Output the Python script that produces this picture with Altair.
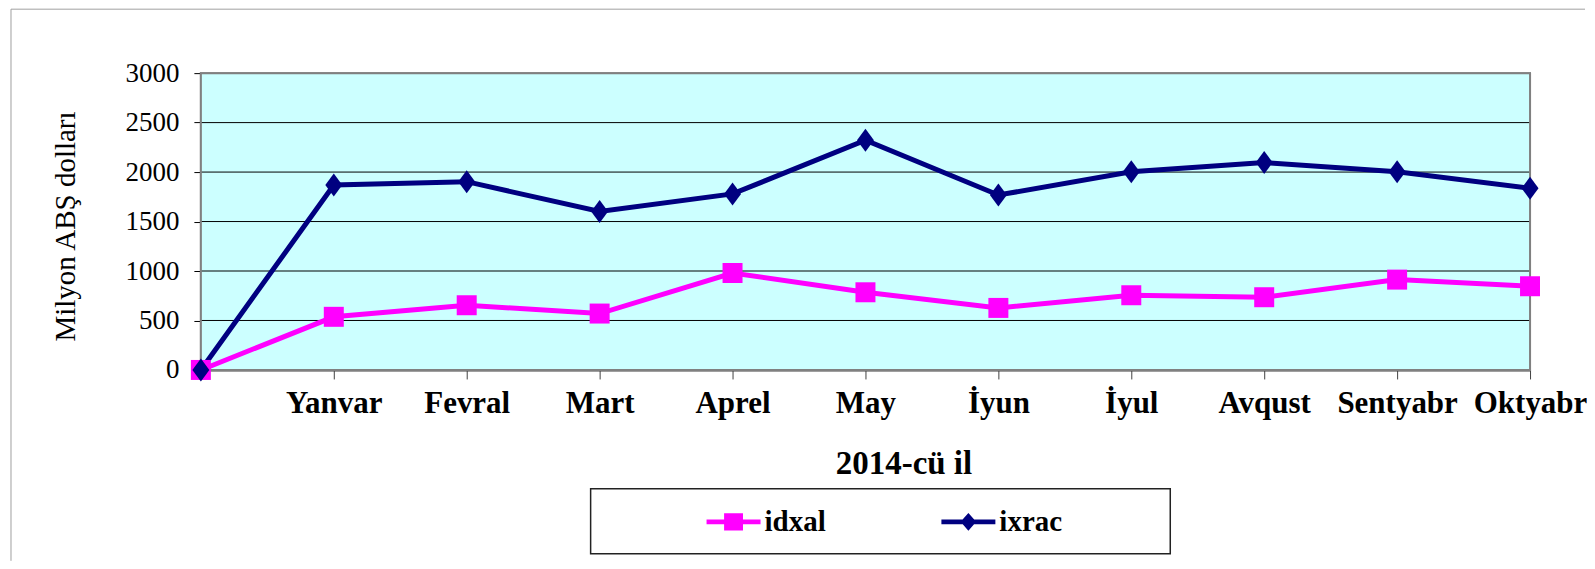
import altair as alt
import pandas as pd

# ---- data ----
months = [" ", "Yanvar", "Fevral", "Mart", "Aprel", "May", "İyun", "İyul", "Avqust", "Sentyabr", "Oktyabr"]
idxal = [0, 537, 654, 570, 980, 785, 627, 755, 735, 913, 846]
ixrac = [0, 1869, 1903, 1601, 1779, 2322, 1768, 2003, 2097, 2003, 1836]
series_names = ["idxal", "ixrac"]
series_colors = ["#FF00FF", "#000080"]
y_ticks = [0, 500, 1000, 1500, 2000, 2500, 3000]

rows = []
for name, vals in zip(series_names, [idxal, ixrac]):
    for m, v in zip(months, vals):
        rows.append({"month": m, "series": name, "value": v})
df = pd.DataFrame(rows)

FONT = "Liberation Serif"
W, H = 1330, 297
Y_MAX = 3000
Y_TITLE = "Milyon ABŞ dolları"

x_enc = alt.X(
    "month:N",
    sort=months,
    scale=alt.Scale(type="point", padding=0),
    axis=alt.Axis(
        title="2014-cü il",
        labelAngle=0,
        labelFont=FONT,
        labelFontSize=31,
        labelFontWeight="bold",
        labelColor="black",
        labelPadding=10,
        tickSize=9,
        tickColor="#404040",
        tickWidth=1,
        domainColor="#404040",
        domainWidth=2,
        grid=False,
        titleFont=FONT,
        titleFontSize=33,
        titleFontWeight="bold",
        titleColor="black",
        titleX=703,
        titleY=104,
        titleAlign="center",
        titleBaseline="alphabetic",
    ),
)
y_scale = alt.Scale(domain=[0, Y_MAX], nice=False)
y_axis = alt.Axis(
    values=y_ticks,
    format="d",
    title=Y_TITLE,
    labelFont=FONT,
    labelFontSize=27,
    labelColor="black",
    labelPadding=15,
    tickSize=7,
    tickColor="#000000",
    domainColor="#808080",
    domainWidth=2,
    grid=False,
    titleFont=FONT,
    titleFontSize=29,
    titleFontWeight="normal",
    titleColor="black",
    titleX=-135,
    titleY=153,
    titleAngle=270,
    titleAlign="center",
    titleBaseline="middle",
)
y_enc = alt.Y("value:Q", scale=y_scale, axis=y_axis, title=Y_TITLE)
color_enc = alt.Color("series:N", scale=alt.Scale(domain=series_names, range=series_colors), legend=None)

base = alt.Chart(df)

lines = base.mark_line(strokeWidth=5).encode(x=x_enc, y=y_enc, color=color_enc, detail="series:N")

pt_square = "M-1,-1L1,-1L1,1L-1,1Z"
pt_diamond = "M0,-1.15L0.85,0L0,1.15L-0.85,0Z"

points = base.mark_point(filled=True, opacity=1, size=400).encode(
    x=x_enc,
    y=y_enc,
    color=color_enc,
    shape=alt.Shape("series:N", scale=alt.Scale(domain=series_names, range=[pt_square, pt_diamond]), legend=None),
)

leg_square = "M-1,-0.09L1,-0.09L1,0.09L-1,0.09Z M-0.35,-0.32L0.35,-0.32L0.35,0.32L-0.35,0.32Z"
leg_diamond = "M-1,-0.09L1,-0.09L1,0.09L-1,0.09Z M0,-0.33L0.29,0L0,0.33L-0.29,0Z"

fill_expr = f"datum.value === '{series_names[0]}' ? '{series_colors[0]}' : '{series_colors[1]}'"

leg = alt.Legend(
    orient="none",
    legendX=506,
    legendY=422,
    direction="horizontal",
    symbolSize=2916,
    symbolStrokeWidth=0,
    symbolOpacity=1,
    labelFont=FONT,
    labelFontSize=29,
    labelFontWeight="bold",
    labelColor="black",
    labelOffset=4,
    columnPadding=115,
    padding=0,
)

legend_layer = (
    base.transform_filter("false")
    .mark_point(filled=True, opacity=1, fill={"expr": fill_expr})
    .encode(
        shape=alt.Shape("series:N", title=None, scale=alt.Scale(domain=series_names, range=[leg_square, leg_diamond]), legend=leg),
    )
)

one = alt.Chart(pd.DataFrame({"k": [0]}))
plot_bg = one.mark_rect(fill="#CCFFFF", strokeWidth=0).encode(
    x=alt.value(0), x2=alt.value(W), y=alt.value(0), y2=alt.value(H)
)
grid = (
    alt.Chart(pd.DataFrame({"tick": y_ticks}))
    .transform_filter(f"datum.tick > 0 && datum.tick < {Y_MAX}")
    .mark_rule(color="#000000", strokeWidth=1)
    .encode(y=alt.Y("tick:Q", scale=y_scale, axis=y_axis, title=Y_TITLE))
)
border_top = one.mark_rule(color="#A0A0A0", strokeWidth=1).encode(
    x=alt.value(-190), x2=alt.value(1385), y=alt.value(-64)
)
border_left = one.mark_rule(color="#A0A0A0", strokeWidth=1).encode(
    x=alt.value(-190), y=alt.value(-64), y2=alt.value(488)
)
legend_box = one.mark_rect(fillOpacity=0, stroke="#222222", strokeWidth=1.5).encode(
    x=alt.value(390), x2=alt.value(970), y=alt.value(416), y2=alt.value(481)
)
frame = one.mark_rect(fillOpacity=0, stroke="#808080", strokeWidth=2).encode(
    x=alt.value(0), x2=alt.value(W), y=alt.value(0), y2=alt.value(H)
)

chart = (
    alt.layer(border_top, border_left, legend_box, plot_bg, grid, frame, lines, points, legend_layer)
    .resolve_scale(shape="independent")
    .properties(width=W, height=H, background="white",
                padding={"left": 2, "top": 0, "right": 0, "bottom": 0})
    .configure(font=FONT)
    .configure_view(stroke="#808080", strokeWidth=2)
)

chart.save("out.html", embed_options={"renderer": "svg", "actions": False})
